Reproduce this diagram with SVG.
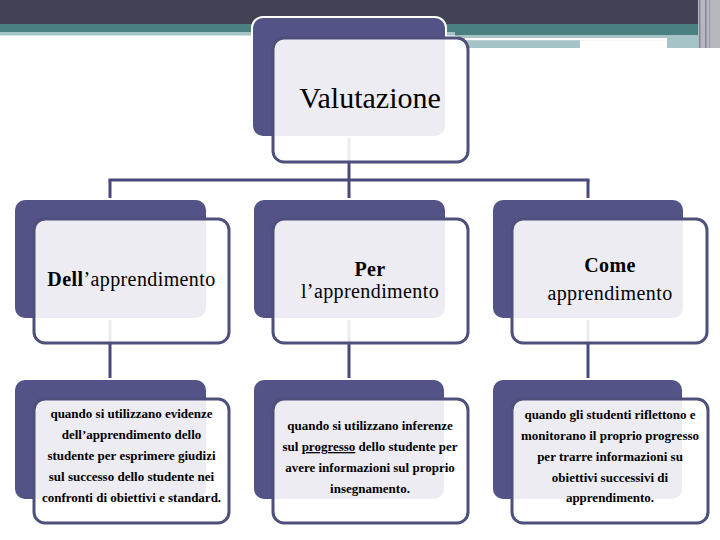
<svg xmlns="http://www.w3.org/2000/svg" width="720" height="540" viewBox="0 0 720 540">
<style>
.back{fill:#535388;stroke:#ffffff;stroke-width:2}
.front{fill:#ffffff;fill-opacity:0.89;stroke:#4f4f7c;stroke-width:3}
.conn{stroke:#48487a;stroke-width:3;fill:none}
.t1{font-family:"Liberation Serif","Times New Roman",serif;fill:#000;text-anchor:middle}
.t2{font-family:"Liberation Serif","Times New Roman",serif;fill:#000;text-anchor:middle;font-size:20px;letter-spacing:0.4px}
.t3{font-family:"Liberation Serif","Times New Roman",serif;font-weight:bold;font-size:13px;fill:#000;text-anchor:middle}
</style>
<rect width="720" height="540" fill="#ffffff"/>
<g id="banner">
<rect x="0" y="0" width="720" height="24" fill="#414253"/>
<rect x="0" y="24" width="460" height="8" fill="#4a8080"/>
<rect x="0" y="32" width="460" height="3.5" fill="#a6c3c7"/>
<rect x="455" y="24" width="245" height="11.5" fill="#4a8080"/>
<rect x="458" y="35.5" width="242" height="12.5" fill="#a6c3c7"/>
<rect x="465" y="38" width="202" height="2.2" fill="#ffffff"/>
<rect x="580" y="40.2" width="87" height="8" fill="#ffffff"/>
<rect x="698" y="0" width="22" height="48" fill="#b6b7bf"/>
<rect x="699" y="0" width="1.5" height="48" fill="#85869a"/>
<rect x="705" y="0" width="1.5" height="48" fill="#85869a"/>
<rect x="709" y="0" width="1.2" height="48" fill="#9a9aa8"/>
</g>
<g id="connectors">
<line class="conn" x1="349" y1="137" x2="349" y2="180"/>
<line class="conn" x1="108.5" y1="180" x2="589.5" y2="180"/>
<line class="conn" x1="110" y1="180" x2="110" y2="199"/>
<line class="conn" x1="349" y1="180" x2="349" y2="199"/>
<line class="conn" x1="588" y1="180" x2="588" y2="199"/>
<line class="conn" x1="110" y1="319" x2="110" y2="379"/>
<line class="conn" x1="349" y1="319" x2="349" y2="379"/>
<line class="conn" x1="588" y1="319" x2="588" y2="379"/>
</g>
<g id="node-valutazione">
<rect class="back" x="252" y="17" width="194" height="120" rx="11"/>
<rect class="front" x="273" y="38" width="195" height="124" rx="11"/>
<text class="t1" x="370" y="108" font-size="30">Valutazione</text>
</g>
<g id="node-dell">
<rect class="back" x="14" y="199" width="193" height="120" rx="11"/>
<rect class="front" x="34" y="219" width="195" height="124" rx="11"/>
<text class="t2" x="131.5" y="286"><tspan font-weight="bold">Dell</tspan>’apprendimento</text>
</g>
<g id="node-per">
<rect class="back" x="253" y="199" width="193" height="120" rx="11"/>
<rect class="front" x="273" y="219" width="195" height="124" rx="11"/>
<text class="t2" x="370" y="276"><tspan font-weight="bold">Per</tspan></text>
<text class="t2" x="370" y="298">l’apprendimento</text>
</g>
<g id="node-come">
<rect class="back" x="492" y="199" width="192" height="120" rx="11"/>
<rect class="front" x="512" y="219" width="195" height="124" rx="11"/>
<text class="t2" x="610" y="272"><tspan font-weight="bold">Come</tspan></text>
<text class="t2" x="610" y="300">apprendimento</text>
</g>
<g id="node-desc-dell">
<rect class="back" x="14" y="379" width="193" height="121" rx="11"/>
<rect class="front" x="34" y="399" width="195" height="124" rx="11"/>
<text class="t3" x="131.5" y="418">quando si utilizzano evidenze</text>
<text class="t3" x="131.5" y="439">dell’apprendimento dello</text>
<text class="t3" x="131.5" y="460">studente per esprimere giudizi</text>
<text class="t3" x="131.5" y="481">sul successo dello studente nei</text>
<text class="t3" x="131.5" y="502">confronti di obiettivi e standard.</text>
</g>
<g id="node-desc-per">
<rect class="back" x="253" y="379" width="192" height="121" rx="11"/>
<rect class="front" x="273" y="399" width="195" height="124" rx="11"/>
<text class="t3" x="370" y="430">quando si utilizzano inferenze</text>
<text class="t3" x="370" y="451">sul <tspan text-decoration="underline">progresso</tspan> dello studente per</text>
<text class="t3" x="370" y="472">avere informazioni sul proprio</text>
<text class="t3" x="370" y="493">insegnamento.</text>
</g>
<g id="node-desc-come">
<rect class="back" x="492" y="379" width="191" height="121" rx="11"/>
<rect class="front" x="512" y="399" width="196" height="124" rx="11"/>
<text class="t3" x="610" y="419">quando gli studenti riflettono e</text>
<text class="t3" x="610" y="440">monitorano il proprio progresso</text>
<text class="t3" x="610" y="461">per trarre informazioni su</text>
<text class="t3" x="610" y="482">obiettivi successivi di</text>
<text class="t3" x="610" y="502">apprendimento.</text>
</g>
</svg>
